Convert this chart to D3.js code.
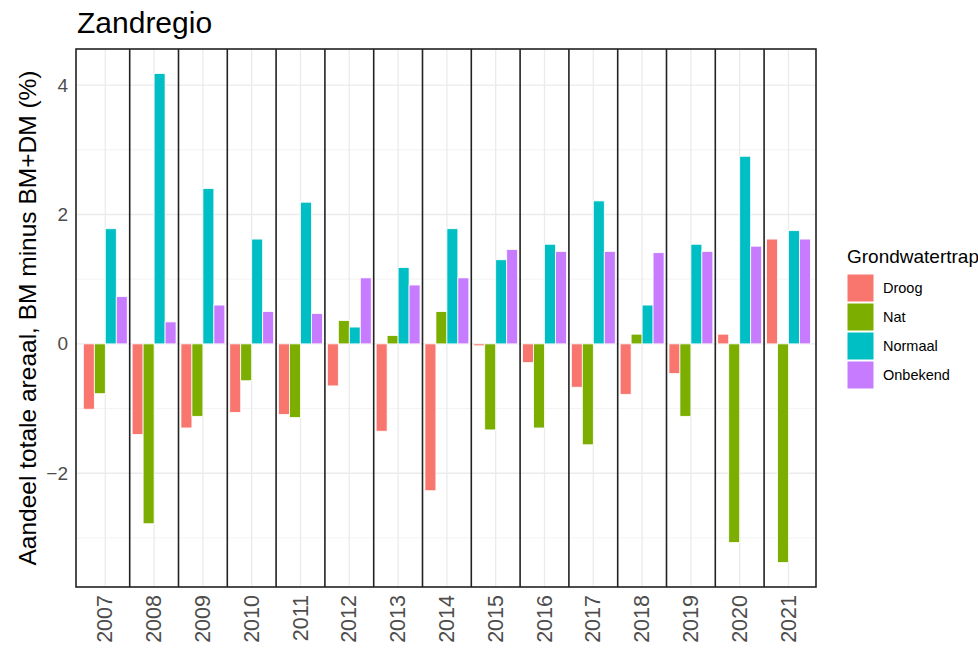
<!DOCTYPE html>
<html><head><meta charset="utf-8">
<script src="https://cdn.jsdelivr.net/npm/d3@7"></script>
<style>body{margin:0;background:#fff}svg{display:block}</style>
</head><body><svg id="c" width="978" height="653"></svg>
<script>
const years = ["2007","2008","2009","2010","2011","2012","2013","2014","2015","2016","2017","2018","2019","2020","2021"];
const series = ["Droog","Nat","Normaal","Onbekend"];
const droog    = [-1.01,-1.40,-1.30,-1.06,-1.09,-0.65,-1.35,-2.27,-0.03,-0.29,-0.67,-0.78,-0.46, 0.15, 1.62];
const nat      = [-0.77,-2.78,-1.12,-0.57,-1.14, 0.36, 0.13, 0.50,-1.33,-1.30,-1.56, 0.15,-1.12,-3.07,-3.38];
const normaal  = [ 1.78, 4.18, 2.40, 1.62, 2.19, 0.26, 1.18, 1.78, 1.30, 1.54, 2.21, 0.60, 1.54, 2.90, 1.75];
const onbekend = [ 0.73, 0.34, 0.60, 0.50, 0.47, 1.02, 0.91, 1.02, 1.46, 1.43, 1.43, 1.41, 1.43, 1.51, 1.62];
const colors = ["#F8766D","#7CAE00","#00BFC4","#C77CFF"];
const yMajor = [-2,0,2,4];
const yMinor = [-3,-1,1,3];
const title = "Zandregio";
const yTitle = "Aandeel totale areaal, BM minus BM+DM (%)";
const legendTitle = "Grondwatertrap";

const values = [droog, nat, normaal, onbekend];
const rows = [];
years.forEach((y,i)=>series.forEach((s,j)=>rows.push({year:y, serie:s, value:values[j][i]})));

const svg = d3.select("#c");
const frame = {left:76, right:816, top:49, bottom:587};
const FONT = "'Liberation Sans', Arial, Helvetica, sans-serif";

const allVals = values.flat();
const lo = d3.min(allVals), hi = d3.max(allVals), pad = (hi-lo)*0.05;
const y = d3.scaleLinear().domain([lo-pad, hi+pad]).range([frame.bottom, frame.top]);
const x = d3.scaleBand().domain(years).range([80.9, 812.9]).padding(0);
const inner = d3.scaleBand().domain(series).range([-x.bandwidth()*0.45, x.bandwidth()*0.45]);
const color = d3.scaleOrdinal().domain(series).range(colors);

// grid
const g = svg.append("g");
g.selectAll(".minor").data(yMinor).join("line")
  .attr("x1",frame.left).attr("x2",frame.right)
  .attr("y1",d=>y(d)).attr("y2",d=>y(d))
  .attr("stroke","#F2F2F2").attr("stroke-width",0.9);
g.selectAll(".major").data(yMajor).join("line")
  .attr("x1",frame.left).attr("x2",frame.right)
  .attr("y1",d=>y(d)).attr("y2",d=>y(d))
  .attr("stroke","#EBEBEB").attr("stroke-width",1.3);
g.selectAll(".vg").data(years).join("line")
  .attr("x1",d=>x(d)+x.bandwidth()/2).attr("x2",d=>x(d)+x.bandwidth()/2)
  .attr("y1",frame.top).attr("y2",frame.bottom)
  .attr("stroke","#EBEBEB").attr("stroke-width",1.3);

// bars
svg.append("g").selectAll("rect").data(rows).join("rect")
  .attr("x",d=>x(d.year)+x.bandwidth()/2+inner(d.serie))
  .attr("width",inner.bandwidth())
  .attr("y",d=>Math.min(y(d.value),y(0)))
  .attr("height",d=>Math.max(Math.abs(y(d.value)-y(0)),1))
  .attr("fill",d=>color(d.serie))
  .attr("stroke","#ffffff").attr("stroke-width",0.8);

// panel dividers + frame
svg.append("g").selectAll("line").data(years.slice(1)).join("line")
  .attr("x1",d=>x(d)).attr("x2",d=>x(d))
  .attr("y1",frame.top).attr("y2",frame.bottom)
  .attr("stroke","#222").attr("stroke-width",1.6);
svg.append("rect").attr("x",frame.left).attr("y",frame.top)
  .attr("width",frame.right-frame.left).attr("height",frame.bottom-frame.top)
  .attr("fill","none").attr("stroke","#222").attr("stroke-width",1.6);

// y axis labels
const yAxis = d3.axisLeft(y).tickValues(yMajor).tickSize(0).tickPadding(8).tickFormat(d3.format("d"));
const ya = svg.append("g").attr("transform",`translate(${frame.left},0)`).call(yAxis);
ya.select(".domain").remove();
ya.selectAll("text").attr("font-family",FONT).attr("font-size",19).attr("fill","#4D4D4D");

// x axis labels
const xAxis = d3.axisBottom(x).tickSize(0).tickPadding(0);
const xa = svg.append("g").attr("transform",`translate(0,${frame.bottom})`).call(xAxis);
xa.select(".domain").remove();
xa.selectAll("text").attr("font-family",FONT).attr("font-size",21.5).attr("fill","#4D4D4D")
  .attr("text-anchor","end").attr("dy",null)
  .attr("transform","translate(0,8) rotate(-90)").attr("x",0).attr("y",0).attr("dominant-baseline","central");

// titles
svg.append("text").attr("x",77).attr("y",33).text(title)
  .attr("font-family",FONT).attr("font-size",30).attr("fill","#000");
svg.append("text").attr("transform",`translate(36,${(frame.top+frame.bottom)/2}) rotate(-90)`)
  .attr("text-anchor","middle").text(yTitle)
  .attr("font-family",FONT).attr("font-size",24.5).attr("fill","#000");

// legend
const lg = svg.append("g").attr("transform","translate(847,0)");
lg.append("text").attr("x",0).attr("y",263).text(legendTitle)
  .attr("font-family",FONT).attr("font-size",19).attr("fill","#000");
const items = lg.selectAll("g.item").data(series).join("g")
  .attr("transform",(d,i)=>`translate(0,${274+i*29})`);
items.append("rect").attr("width",27).attr("height",28)
  .attr("fill",d=>color(d)).attr("stroke","#fff").attr("stroke-width",1);
items.append("text").attr("x",36).attr("y",14).attr("dominant-baseline","central")
  .text(d=>d).attr("font-family",FONT).attr("font-size",14.5).attr("fill","#000");
</script></body></html>
